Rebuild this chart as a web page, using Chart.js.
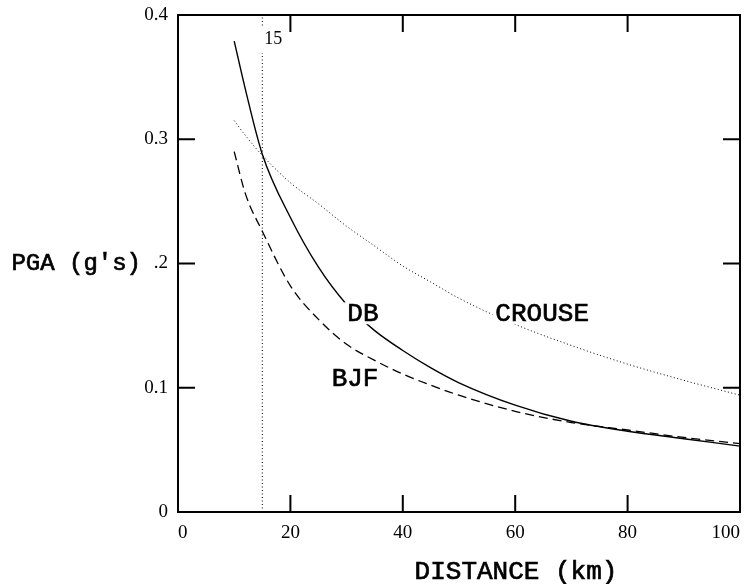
<!DOCTYPE html>
<html>
<head>
<meta charset="utf-8">
<script src="https://cdn.jsdelivr.net/npm/chart.js@4/dist/chart.umd.min.js"></script>
<style>
  html, body { margin: 0; padding: 0; background: #fff; }
  #wrap { width: 744px; height: 584px; }
</style>
</head>
<body>
<div id="wrap"><canvas id="c" width="744" height="584"></canvas></div>
<script>
// ---- data ----
const distances = [10, 12, 15, 20, 25, 30, 35, 40, 45, 50, 60, 70, 80, 90, 100];
const dbValues     = [0.379, 0.340, 0.288, 0.237, 0.197, 0.167, 0.146, 0.130, 0.116, 0.104, 0.086, 0.073, 0.065, 0.059, 0.053];
const bjfValues    = [0.290, 0.256, 0.226, 0.182, 0.155, 0.135, 0.122, 0.111, 0.102, 0.094, 0.081, 0.072, 0.066, 0.060, 0.055];
const crouseValues = [0.315, 0.303, 0.287, 0.265, 0.248, 0.230, 0.214, 0.198, 0.185, 0.172, 0.151, 0.134, 0.119, 0.106, 0.094];
const xTickValues = [0, 20, 40, 60, 80, 100];
const yTickValues = [0, 0.1, 0.2, 0.3, 0.4];
const markerDistance = 15;
const seriesNames = ['DB', 'BJF', 'CROUSE'];
const labelPositions = [[32.9, 0.160], [31.5, 0.108], [64.8, 0.160]];
const xTitle = 'DISTANCE (km)';
const yTitle = "PGA (g's)";

const toPts = (xs, ys) => xs.map((x, i) => ({ x: x, y: ys[i] }));

const MONO = "'Liberation Mono', 'DejaVu Sans Mono', monospace";
const SERIF = "'Liberation Serif', 'DejaVu Serif', serif";

function heavyText(ctx, t, x, y) {
  ctx.fillText(t, x, y);
  ctx.lineWidth = 0.7;
  ctx.strokeStyle = '#000';
  ctx.strokeText(t, x, y);
}

const framePlugin = {
  id: 'frame',
  afterDraw(chart) {
    const ctx = chart.ctx;
    const a = chart.chartArea;
    const xs = chart.scales.x, ys = chart.scales.y;
    ctx.save();
    ctx.strokeStyle = '#000';
    ctx.lineWidth = 2;
    ctx.strokeRect(a.left, a.top, a.right - a.left, a.bottom - a.top);
    const tl = 17;
    ctx.beginPath();
    xTickValues.slice(1, -1).forEach(v => {
      const px = xs.getPixelForValue(v);
      ctx.moveTo(px, a.bottom); ctx.lineTo(px, a.bottom - tl);
      ctx.moveTo(px, a.top); ctx.lineTo(px, a.top + tl);
    });
    yTickValues.slice(1, -1).forEach(v => {
      const py = ys.getPixelForValue(v);
      ctx.moveTo(a.left, py); ctx.lineTo(a.left + tl, py);
      ctx.moveTo(a.right, py); ctx.lineTo(a.right - tl, py);
    });
    ctx.stroke();

    // "15" marker label
    ctx.font = '18px ' + SERIF;
    ctx.textAlign = 'left';
    ctx.textBaseline = 'middle';
    const mx = xs.getPixelForValue(markerDistance);
    ctx.fillStyle = '#fff';
    ctx.fillRect(mx - 2, a.top + 12, 4, 26);
    ctx.fillStyle = '#000';
    ctx.fillText(String(markerDistance), mx + 2, a.top + 24);

    // series labels
    ctx.font = '26px ' + MONO;
    ctx.textAlign = 'center';
    seriesNames.forEach((n, i) => {
      const px = xs.getPixelForValue(labelPositions[i][0]);
      const py = ys.getPixelForValue(labelPositions[i][1]);
      const w = ctx.measureText(n).width;
      ctx.fillStyle = '#fff';
      ctx.fillRect(px - w / 2 - 3, py - 11, w + 6, 22);
      ctx.fillStyle = '#000';
      heavyText(ctx, n, px, py + 1);
    });

    // axis titles
    ctx.font = '24px ' + MONO;
    ctx.textAlign = 'right';
    heavyText(ctx, yTitle, 141, ys.getPixelForValue(0.2));
    ctx.font = '26px ' + MONO;
    ctx.textAlign = 'center';
    heavyText(ctx, xTitle, 516, 572);
    ctx.restore();
  }
};

new Chart(document.getElementById('c'), {
  type: 'line',
  data: {
    datasets: [
      { label: 'DB', data: toPts(distances, dbValues), borderColor: '#000', borderWidth: 1.4, pointRadius: 0, cubicInterpolationMode: 'monotone', fill: false },
      { label: 'BJF', data: toPts(distances, bjfValues), borderColor: '#000', borderWidth: 1.3, borderDash: [9, 5], pointRadius: 0, cubicInterpolationMode: 'monotone', fill: false },
      { label: 'CROUSE', data: toPts(distances, crouseValues), borderColor: '#000', borderWidth: 1, borderDash: [1, 2.5], pointRadius: 0, cubicInterpolationMode: 'monotone', fill: false },
      { label: '15 km', data: [{ x: markerDistance, y: 0 }, { x: markerDistance, y: 0.4 }], borderColor: '#000', borderWidth: 1, borderDash: [1, 2.5], pointRadius: 0, fill: false }
    ]
  },
  options: {
    responsive: false,
    animation: false,
    devicePixelRatio: 1,
    layout: { padding: { top: 15, right: 4, left: 0, bottom: 0 } },
    plugins: { legend: { display: false }, tooltip: { enabled: false } },
    scales: {
      x: {
        type: 'linear', min: 0, max: 100,
        afterBuildTicks(s) { s.ticks = xTickValues.map(v => ({ value: v })); },
        afterFit(s) { s.height = 72; s.paddingLeft = 0; s.paddingRight = 0; },
        grid: { display: false, drawTicks: false },
        border: { display: false },
        ticks: { color: '#000', font: { family: SERIF, size: 19 }, padding: 10, align: 'inner', maxRotation: 0, callback: v => String(v) }
      },
      y: {
        type: 'linear', min: 0, max: 0.4,
        afterBuildTicks(s) { s.ticks = yTickValues.map(v => ({ value: v })); },
        afterFit(s) { s.width = 178; s.paddingTop = 0; s.paddingBottom = 0; },
        grid: { display: false, drawTicks: false },
        border: { display: false },
        ticks: {
          color: '#000', font: { family: SERIF, size: 19 }, padding: 10,
          callback: v => { const r = Math.round(v * 10) / 10; return r === 0 ? '0' : (r === 0.2 ? '.2' : r.toFixed(1)); }
        }
      }
    }
  },
  plugins: [framePlugin]
});
</script>
</body>
</html>
